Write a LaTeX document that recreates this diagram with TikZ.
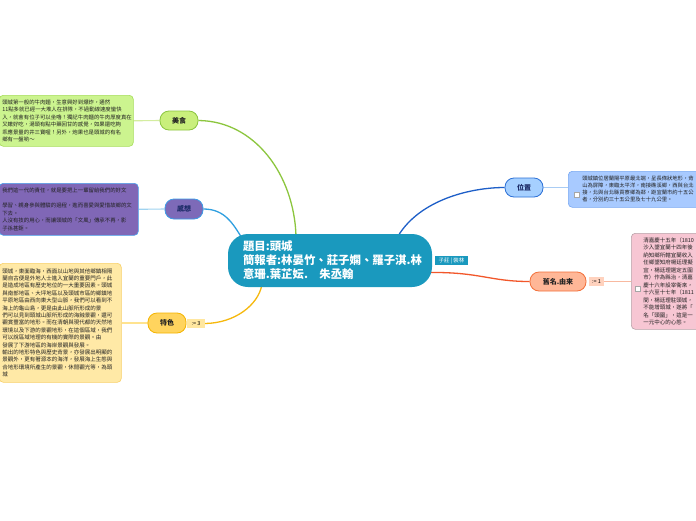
\documentclass[tikz,border=0pt]{standalone}
\usepackage{fontspec}
\setmainfont{Noto Sans CJK TC}
\usetikzlibrary{backgrounds}
\definecolor{cBlue}{HTML}{1A99BE}
\definecolor{gLine}{HTML}{8CC63E}
\definecolor{gFill}{HTML}{C9EF7C}
\definecolor{gDraw}{HTML}{8BC53F}
\definecolor{gNote}{HTML}{CCF48F}
\definecolor{gNoteD}{HTML}{A7DD5B}
\definecolor{gSub}{HTML}{D4EDA0}
\definecolor{pFill}{HTML}{7D6AB8}
\definecolor{pDraw}{HTML}{3B9BE6}
\definecolor{pNote}{HTML}{8067B6}
\definecolor{pNoteD}{HTML}{4AA3EE}
\definecolor{pLine}{HTML}{2F9FE0}
\definecolor{pSub}{HTML}{9FD3F0}
\definecolor{yFill}{HTML}{FFD45E}
\definecolor{yDraw}{HTML}{F4B400}
\definecolor{yNote}{HTML}{FFE9A6}
\definecolor{yNoteD}{HTML}{F8D068}
\definecolor{yLine}{HTML}{F6B80C}
\definecolor{ySub}{HTML}{FFE38F}
\definecolor{yLab}{HTML}{FFE7A0}
\definecolor{bFill}{HTML}{A6D0FF}
\definecolor{bDraw}{HTML}{2C70D6}
\definecolor{bNote}{HTML}{A8CAFF}
\definecolor{bNoteD}{HTML}{78A8F2}
\definecolor{bLine}{HTML}{1E5FC8}
\definecolor{bSub}{HTML}{A9CCF4}
\definecolor{rFill}{HTML}{FFB797}
\definecolor{rDraw}{HTML}{F2703A}
\definecolor{rLab}{HTML}{FFD2BE}
\definecolor{rNote}{HTML}{F7C6D3}
\definecolor{rNoteD}{HTML}{B8A2A8}
\definecolor{rLine}{HTML}{F2572A}
\definecolor{rSub}{HTML}{F8B9A0}
\definecolor{darkTxt}{HTML}{222222}
\definecolor{navyTxt}{HTML}{1B2A66}
\tikzset{
  central/.style={fill=cBlue, rounded corners=20pt, text=white, align=left,
    text width=174pt, inner xsep=15pt, inner ysep=4pt, minimum height=53pt,
    font=\fontsize{11.4}{14}\selectfont\bfseries},
  branch/.style={draw, line width=0.8pt, rounded corners=9pt, inner sep=0pt,
    minimum height=19pt, minimum width=38pt, font=\fontsize{7}{8}\selectfont\bfseries},
  tag/.style={inner sep=0pt, minimum height=9pt, font=\fontsize{5.5}{6}\selectfont},
  note/.style={draw, line width=0.6pt, rounded corners=4pt, anchor=north west,
    align=left, inner xsep=3pt, inner ysep=2pt, text=darkTxt,
    font=\fontsize{5.4}{7.5}\selectfont},
  chk/.style={draw=gray!70, fill=white, minimum size=5pt, inner sep=0pt},
  mainline/.style={line width=1.3pt},
  subline/.style={line width=1.1pt}
}
\begin{document}
\begin{tikzpicture}[x=1pt,y=-1pt]
\useasboundingbox (0,0) rectangle (696,520);
\clip (0,0) rectangle (696,520);

% central
\node[central] (c) at (330,260.5) {題目:頭城\\簡報者:林晏竹、莊子嫻、羅子淇.林\\意珊.葉芷妘.\quad 朱丞翰};
\node[tag, fill=cBlue, text=white, minimum width=33pt] (sub) at (451.5,260.5) {子莊 | 裝林};

% branches
\node[branch, fill=gFill, draw=gDraw, text=darkTxt] (food) at (179,120.5) {美食};
\node[branch, fill=pFill, draw=pDraw, text=navyTxt, minimum height=20pt] (feel) at (184,209) {感想};
\node[branch, fill=yFill, draw=yDraw, text=darkTxt, minimum height=20pt] (feat) at (167,323) {特色};
\node[tag, fill=yLab, minimum width=18pt] (feattag) at (196,323.5) {:= 3};
\node[branch, fill=bFill, draw=bDraw, text=navyTxt] (loc) at (524,187.5) {位置};
\node[branch, fill=rFill, draw=rDraw, text=darkTxt, minimum width=56pt] (name) at (558,281.5) {舊名.由來};
\node[tag, fill=rLab, minimum width=15pt] (nametag) at (596.5,281.5) {:= 1};

% notes
\node[note, fill=gNote, draw=gNoteD, text width=128pt, minimum height=51pt] (foodn) at (-1,95) {%
頭城第一般的牛肉麵，生意興好到爆炸，通然\\
11點多就已經一大堆人在排隊，不過動線速度蠻快\\
入，就會有位子可以坐嚕！獨記牛肉麵的牛肉厚度真在\\
又嫩好吃，湯頭有點中藥回甘的感覺，如果還吃夠\\
乖應景量的井三寶喔！另外，炮果也是頭城的有名\\
鄉有一盤喲～};

\node[note, fill=pNote, draw=pNoteD, text width=133pt, minimum height=52pt] (feeln) at (-1,183) {%
我們這一代的責任，就是要把上一輩留給我們的好文\\
\mbox{}\\
學習、親身參與體驗的過程，進而喜愛與愛惜故鄉的文\\
下去。\\
人沒有技的用心，而讓頭城的「文風」傳承不再，影\\
子孫甚鉅。};

\node[note, fill=yNote, draw=yNoteD, text width=116pt, minimum height=119pt, font=\fontsize{5.5}{7.4}\selectfont] (featn) at (-1,263) {%
頭城，東面臨海，西面以山地與其他鄉鎮相隔\\
蘭自古便是外地人士進入宜蘭的重要門戶，此\\
是造成地區有歷史地位的一大重要因素。頭城\\
與南部地區、大坪地區以及頭城市區的鄉鎮地\\
平原地區由西向東大型山脈，我們可以看到不\\
海上的龜山島，更是由此山脈所形成的景\\
們可以見到頭城山脈所形成的海蝕景觀，還可\\
觀賞豐富的地形。而在清朝與現代都的天然地\\
環境以及下游的景觀地形，在這個區域，我們\\
可以說區域地理的有機的實際的景觀。由\\
發展了下游地區的海岸景觀與發展。\\
輸出的地形特色與歷史背景，亦發展出明顯的\\
景觀外，更有著源本的海洋，發展海上生態與\\
合地形環境所產生的景觀，休閒觀光等，為頭\\
城};

\node[note, fill=bNote, draw=bNoteD, text width=180pt, inner xsep=14pt, minimum height=36pt, font=\fontsize{5.3}{7}\selectfont] (locn) at (568,171) {%
頭城鎮位居蘭陽平原最北端，呈長條狀地形，背\\
山為屏障，東臨太平洋，南接礁溪鄉，西與台北\\
接，北與台北縣貢寮鄉為鄰，距宜蘭市約十五公\\
者，分別約三十五公里及七十九公里。};
\node[chk] (k1) at (576.5,195) {};

\node[note, fill=rNote, draw=rNoteD, text width=120pt, inner xsep=12pt, minimum height=96pt, font=\fontsize{5.5}{7.5}\selectfont] (namen) at (631,233) {%
清嘉慶十五年（1810\\
沙入墾宜蘭十四年後\\
納知鄉所轄宜蘭收入\\
任鄉墾知府楊廷理擬\\
宜，楊廷理選定五圍\\
市）作為縣治，清嘉\\
慶十六年設宰衛來，\\
十六至十七年（1811\\
間，楊廷理駐頭城，\\
不能增頭城，遂將「\\
名「頭圍」，這是一\\
一元中心的心態。};
\node[chk] (k2) at (638,289) {};

% connectors
\begin{pgfonlayer}{background}
\fill[white] (0,0) rectangle (696,520);
\draw[mainline, gLine] (food.east) .. controls (255,121) and (294,175) .. ([shift={(-34,2)}]c.north);
\draw[mainline, pLine] (feel.east) .. controls (225,209) and (233,224) .. ([shift={(14,4)}]c.north west);
\draw[mainline, yLine] (feattag.east) .. controls (235,323) and (258,305) .. ([shift={(34,-2)}]c.south west);
\draw[mainline, bLine] ([shift={(-34,2)}]c.north east) .. controls (420,200) and (470,187.5) .. (loc.west);
\draw[mainline, rLine] ([shift={(-2,12)}]c.east) .. controls (480,272) and (490,281.5) .. (name.west);
\draw[subline, gSub] (food.west) -- (foodn.east);
\draw[subline, pSub] (feel.west) -- (feeln.east);
\draw[subline, ySub] (feat.west) -- (featn.east |- feat.west);
\draw[subline, bSub] (loc.east) -- (locn.west |- loc.east);
\draw[subline, rSub] (nametag.east) -- (namen.west |- nametag.east);
\end{pgfonlayer}
\end{tikzpicture}
\end{document}
